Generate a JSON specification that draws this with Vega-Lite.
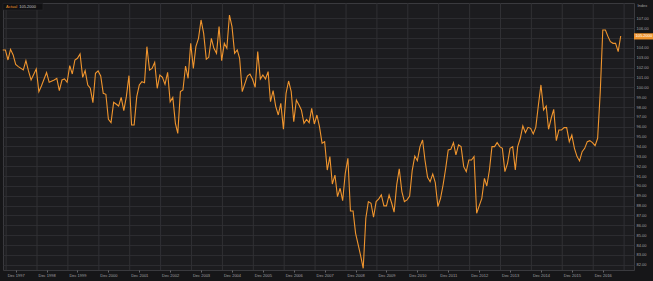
{
  "$schema": "https://vega.github.io/schema/vega-lite/v6.json",
  "autosize": {"type": "none"},
  "padding": {"left": 3, "top": 3, "right": 19, "bottom": 11},
  "width": 631,
  "height": 267,
  "background": "#161618",
  "config": {
    "view": {"stroke": "#3a3a3e", "fill": "#1c1c1f"},
    "font": "Liberation Sans"
  },
  "resolve": {"axis": {"x": "independent", "y": "independent"}},
  "datasets": {
    "series": [
      {"date": "1997-07-01", "v": 103.79}, {"date": "1997-08-01", "v": 103.79}, {"date": "1997-09-01", "v": 102.77}, {"date": "1997-10-01", "v": 103.85}, {"date": "1997-11-01", "v": 103.28}, {"date": "1997-12-01", "v": 102.33},
      {"date": "1998-01-01", "v": 102.10}, {"date": "1998-03-01", "v": 101.76}, {"date": "1998-04-01", "v": 102.71}, {"date": "1998-05-01", "v": 101.66}, {"date": "1998-06-01", "v": 100.74}, {"date": "1998-08-01", "v": 101.86}, {"date": "1998-09-01", "v": 99.56}, {"date": "1998-10-01", "v": 100.13}, {"date": "1998-12-01", "v": 101.49},
      {"date": "1999-01-01", "v": 100.51}, {"date": "1999-03-01", "v": 100.74}, {"date": "1999-04-01", "v": 100.91}, {"date": "1999-05-01", "v": 99.66}, {"date": "1999-06-01", "v": 100.74}, {"date": "1999-07-01", "v": 100.84}, {"date": "1999-08-01", "v": 100.51}, {"date": "1999-09-01", "v": 102.20}, {"date": "1999-10-01", "v": 101.35}, {"date": "1999-11-01", "v": 102.77}, {"date": "1999-12-01", "v": 102.94},
      {"date": "2000-01-01", "v": 103.38}, {"date": "2000-02-01", "v": 101.01}, {"date": "2000-03-01", "v": 101.69}, {"date": "2000-04-01", "v": 100.23}, {"date": "2000-05-01", "v": 99.90}, {"date": "2000-06-01", "v": 98.44}, {"date": "2000-07-01", "v": 101.42}, {"date": "2000-08-01", "v": 101.66}, {"date": "2000-09-01", "v": 101.15}, {"date": "2000-10-01", "v": 99.39}, {"date": "2000-11-01", "v": 99.29}, {"date": "2000-12-01", "v": 96.75},
      {"date": "2001-01-01", "v": 96.42}, {"date": "2001-02-01", "v": 98.48}, {"date": "2001-03-01", "v": 98.31}, {"date": "2001-04-01", "v": 98.10}, {"date": "2001-05-01", "v": 98.98}, {"date": "2001-06-01", "v": 97.63}, {"date": "2001-07-01", "v": 99.05}, {"date": "2001-08-01", "v": 101.18}, {"date": "2001-09-01", "v": 96.18}, {"date": "2001-10-01", "v": 96.18}, {"date": "2001-11-01", "v": 99.05}, {"date": "2001-12-01", "v": 100.23},
      {"date": "2002-01-01", "v": 100.57}, {"date": "2002-02-01", "v": 100.47}, {"date": "2002-03-01", "v": 104.12}, {"date": "2002-04-01", "v": 101.75}, {"date": "2002-05-01", "v": 101.92}, {"date": "2002-06-01", "v": 102.53}, {"date": "2002-07-01", "v": 99.90}, {"date": "2002-08-01", "v": 101.25}, {"date": "2002-09-01", "v": 101.01}, {"date": "2002-10-01", "v": 100.30}, {"date": "2002-11-01", "v": 101.52}, {"date": "2002-12-01", "v": 98.54},
      {"date": "2003-01-01", "v": 98.98}, {"date": "2003-02-01", "v": 96.35}, {"date": "2003-03-01", "v": 95.33}, {"date": "2003-04-01", "v": 99.56}, {"date": "2003-05-01", "v": 99.73}, {"date": "2003-06-01", "v": 102.16}, {"date": "2003-07-01", "v": 100.91}, {"date": "2003-08-01", "v": 104.46}, {"date": "2003-09-01", "v": 101.92}, {"date": "2003-10-01", "v": 104.12}, {"date": "2003-11-01", "v": 104.97}, {"date": "2003-12-01", "v": 106.83},
      {"date": "2004-01-01", "v": 105.47}, {"date": "2004-02-01", "v": 102.84}, {"date": "2004-03-01", "v": 103.04}, {"date": "2004-04-01", "v": 104.97}, {"date": "2004-05-01", "v": 103.95}, {"date": "2004-06-01", "v": 103.45}, {"date": "2004-07-01", "v": 106.15}, {"date": "2004-08-01", "v": 102.70}, {"date": "2004-09-01", "v": 104.46}, {"date": "2004-10-01", "v": 103.95}, {"date": "2004-11-01", "v": 107.33}, {"date": "2004-12-01", "v": 106.15},
      {"date": "2005-01-01", "v": 103.45}, {"date": "2005-02-01", "v": 103.79}, {"date": "2005-03-01", "v": 102.94}, {"date": "2005-04-01", "v": 99.56}, {"date": "2005-06-01", "v": 101.15}, {"date": "2005-07-01", "v": 101.35}, {"date": "2005-08-01", "v": 100.81}, {"date": "2005-09-01", "v": 100.00}, {"date": "2005-10-01", "v": 103.62}, {"date": "2005-11-01", "v": 100.84}, {"date": "2005-12-01", "v": 101.25},
      {"date": "2006-01-01", "v": 100.84}, {"date": "2006-02-01", "v": 101.59}, {"date": "2006-03-01", "v": 98.55}, {"date": "2006-04-01", "v": 99.66}, {"date": "2006-05-01", "v": 98.10}, {"date": "2006-06-01", "v": 97.19}, {"date": "2006-07-01", "v": 98.37}, {"date": "2006-08-01", "v": 95.74}, {"date": "2006-09-01", "v": 99.39}, {"date": "2006-10-01", "v": 100.64}, {"date": "2006-11-01", "v": 99.56}, {"date": "2006-12-01", "v": 96.52},
      {"date": "2007-01-01", "v": 98.71}, {"date": "2007-02-01", "v": 98.20}, {"date": "2007-03-01", "v": 97.70}, {"date": "2007-04-01", "v": 96.35}, {"date": "2007-05-01", "v": 96.75}, {"date": "2007-06-01", "v": 96.42}, {"date": "2007-07-01", "v": 97.87}, {"date": "2007-08-01", "v": 96.28}, {"date": "2007-09-01", "v": 97.19}, {"date": "2007-10-01", "v": 96.01}, {"date": "2007-11-01", "v": 94.32}, {"date": "2007-12-01", "v": 94.49},
      {"date": "2008-01-01", "v": 91.61}, {"date": "2008-02-01", "v": 92.97}, {"date": "2008-03-01", "v": 90.19}, {"date": "2008-04-01", "v": 91.10}, {"date": "2008-05-01", "v": 88.91}, {"date": "2008-06-01", "v": 89.76}, {"date": "2008-07-01", "v": 88.50}, {"date": "2008-08-01", "v": 91.28}, {"date": "2008-09-01", "v": 92.80}, {"date": "2008-10-01", "v": 87.46}, {"date": "2008-11-01", "v": 87.46}, {"date": "2008-12-01", "v": 85.19},
      {"date": "2009-01-01", "v": 84.01}, {"date": "2009-02-01", "v": 82.83}, {"date": "2009-03-01", "v": 81.64}, {"date": "2009-04-01", "v": 86.72}, {"date": "2009-05-01", "v": 88.41}, {"date": "2009-06-01", "v": 88.24}, {"date": "2009-07-01", "v": 86.82}, {"date": "2009-08-01", "v": 88.41}, {"date": "2009-09-01", "v": 88.68}, {"date": "2009-10-01", "v": 89.08}, {"date": "2009-11-01", "v": 87.97}, {"date": "2009-12-01", "v": 87.97},
      {"date": "2010-01-01", "v": 89.08}, {"date": "2010-02-01", "v": 88.24}, {"date": "2010-03-01", "v": 87.33}, {"date": "2010-04-01", "v": 90.10}, {"date": "2010-05-01", "v": 91.72}, {"date": "2010-06-01", "v": 89.42}, {"date": "2010-07-01", "v": 88.41}, {"date": "2010-08-01", "v": 88.58}, {"date": "2010-09-01", "v": 88.98}, {"date": "2010-10-01", "v": 91.55}, {"date": "2010-11-01", "v": 93.03}, {"date": "2010-12-01", "v": 92.56},
      {"date": "2011-01-01", "v": 93.98}, {"date": "2011-02-01", "v": 94.66}, {"date": "2011-03-01", "v": 92.63}, {"date": "2011-04-01", "v": 90.87}, {"date": "2011-05-01", "v": 90.43}, {"date": "2011-06-01", "v": 91.21}, {"date": "2011-07-01", "v": 90.33}, {"date": "2011-08-01", "v": 87.90}, {"date": "2011-09-01", "v": 88.74}, {"date": "2011-10-01", "v": 90.09}, {"date": "2011-11-01", "v": 91.78}, {"date": "2011-12-01", "v": 93.64},
      {"date": "2012-01-01", "v": 93.71}, {"date": "2012-02-01", "v": 94.39}, {"date": "2012-03-01", "v": 93.14}, {"date": "2012-04-01", "v": 94.15}, {"date": "2012-05-01", "v": 93.98}, {"date": "2012-06-01", "v": 91.95}, {"date": "2012-07-01", "v": 91.45}, {"date": "2012-08-01", "v": 92.63}, {"date": "2012-09-01", "v": 92.63}, {"date": "2012-10-01", "v": 92.97}, {"date": "2012-11-01", "v": 87.23}, {"date": "2012-12-01", "v": 87.97},
      {"date": "2013-01-01", "v": 88.74}, {"date": "2013-02-01", "v": 90.77}, {"date": "2013-03-01", "v": 89.99}, {"date": "2013-04-01", "v": 91.61}, {"date": "2013-05-01", "v": 93.98}, {"date": "2013-06-01", "v": 93.98}, {"date": "2013-07-01", "v": 94.39}, {"date": "2013-08-01", "v": 93.98}, {"date": "2013-09-01", "v": 93.81}, {"date": "2013-10-01", "v": 91.45}, {"date": "2013-11-01", "v": 92.29}, {"date": "2013-12-01", "v": 93.81},
      {"date": "2014-01-01", "v": 93.98}, {"date": "2014-02-01", "v": 91.61}, {"date": "2014-03-01", "v": 93.98}, {"date": "2014-04-01", "v": 94.83}, {"date": "2014-05-01", "v": 96.08}, {"date": "2014-06-01", "v": 95.40}, {"date": "2014-07-01", "v": 95.94}, {"date": "2014-08-01", "v": 95.84}, {"date": "2014-09-01", "v": 95.27}, {"date": "2014-10-01", "v": 95.94}, {"date": "2014-11-01", "v": 98.21}, {"date": "2014-12-01", "v": 100.24},
      {"date": "2015-01-01", "v": 97.70}, {"date": "2015-02-01", "v": 98.10}, {"date": "2015-03-01", "v": 95.74}, {"date": "2015-04-01", "v": 96.86}, {"date": "2015-05-01", "v": 97.77}, {"date": "2015-06-01", "v": 94.59}, {"date": "2015-07-01", "v": 95.67}, {"date": "2015-08-01", "v": 95.67}, {"date": "2015-09-01", "v": 95.91}, {"date": "2015-10-01", "v": 95.91}, {"date": "2015-11-01", "v": 94.49}, {"date": "2015-12-01", "v": 95.16},
      {"date": "2016-01-01", "v": 93.81}, {"date": "2016-02-01", "v": 92.97}, {"date": "2016-03-01", "v": 92.53}, {"date": "2016-04-01", "v": 93.47}, {"date": "2016-05-01", "v": 93.81}, {"date": "2016-06-01", "v": 94.49}, {"date": "2016-07-01", "v": 94.59}, {"date": "2016-08-01", "v": 94.39}, {"date": "2016-09-01", "v": 94.08}, {"date": "2016-10-01", "v": 94.83}, {"date": "2016-11-01", "v": 99.50}, {"date": "2016-12-01", "v": 105.81},
      {"date": "2017-01-01", "v": 105.81}, {"date": "2017-02-01", "v": 105.14}, {"date": "2017-03-01", "v": 104.63}, {"date": "2017-04-01", "v": 104.46}, {"date": "2017-05-01", "v": 104.46}, {"date": "2017-06-01", "v": 103.62}, {"date": "2017-07-01", "v": 105.20}
    ],
    "grid": [
      {"g": "1997-08-10"}, {"g": "1998-08-10"}, {"g": "1999-08-10"}, {"g": "2000-08-10"}, {"g": "2001-08-10"}, {"g": "2002-08-10"}, {"g": "2003-08-10"}, {"g": "2004-08-10"}, {"g": "2005-08-10"}, {"g": "2006-08-10"}, {"g": "2007-08-10"}, {"g": "2008-08-10"}, {"g": "2009-08-10"}, {"g": "2010-08-10"}, {"g": "2011-08-10"}, {"g": "2012-08-10"}, {"g": "2013-08-10"}, {"g": "2014-08-10"}, {"g": "2015-08-10"}, {"g": "2016-08-10"}, {"g": "2017-08-10"}
    ]
  },
  "layer": [
    {
      "data": {"name": "grid"},
      "mark": {"type": "rule", "color": "#303034", "strokeWidth": 1},
      "encoding": {"x": {"field": "g", "type": "temporal", "axis": null}}
    },
    {
      "data": {"name": "series"},
      "mark": {"type": "line", "color": "#f0952e", "strokeWidth": 1.1},
      "encoding": {
        "x": {
          "field": "date", "type": "temporal",
          "scale": {"type": "utc", "domain": [{"year": 1997, "month": 7, "date": 4, "utc": true}, {"year": 2017, "month": 12, "date": 5, "utc": true}]},
          "axis": {
            "title": null, "grid": false, "domain": false,
            "values": [
              {"year": 1997, "month": 12, "date": 1, "utc": true}, {"year": 1998, "month": 12, "date": 1, "utc": true}, {"year": 1999, "month": 12, "date": 1, "utc": true}, {"year": 2000, "month": 12, "date": 1, "utc": true}, {"year": 2001, "month": 12, "date": 1, "utc": true}, {"year": 2002, "month": 12, "date": 1, "utc": true}, {"year": 2003, "month": 12, "date": 1, "utc": true}, {"year": 2004, "month": 12, "date": 1, "utc": true}, {"year": 2005, "month": 12, "date": 1, "utc": true}, {"year": 2006, "month": 12, "date": 1, "utc": true}, {"year": 2007, "month": 12, "date": 1, "utc": true}, {"year": 2008, "month": 12, "date": 1, "utc": true}, {"year": 2009, "month": 12, "date": 1, "utc": true}, {"year": 2010, "month": 12, "date": 1, "utc": true}, {"year": 2011, "month": 12, "date": 1, "utc": true}, {"year": 2012, "month": 12, "date": 1, "utc": true}, {"year": 2013, "month": 12, "date": 1, "utc": true}, {"year": 2014, "month": 12, "date": 1, "utc": true}, {"year": 2015, "month": 12, "date": 1, "utc": true}, {"year": 2016, "month": 12, "date": 1, "utc": true}
            ],
            "labelExpr": "utcFormat(datum.value, '%b %Y')",
            "labelFontSize": 4, "labelColor": "#a0a0a4", "labelPadding": 1,
            "tickSize": 2, "tickColor": "#66666a", "labelFlush": false, "labelOverlap": false
          }
        },
        "y": {
          "field": "v", "type": "quantitative",
          "scale": {"domain": [81.47, 108.55], "nice": false, "zero": false},
          "axis": {
            "orient": "right", "title": "Index", "titleAngle": 0, "titleAlign": "left", "titleBaseline": "middle",
            "titleX": 3, "titleY": 2, "titleFontSize": 4, "titleFontWeight": "normal", "titleColor": "#a0a0a4",
            "values": [82, 83, 84, 85, 86, 87, 88, 89, 90, 91, 92, 93, 94, 95, 96, 97, 98, 99, 100, 101, 102, 103, 104, 105, 106, 107],
            "labelExpr": "datum.value == 105 ? '' : format(datum.value, '.2f')",
            "labelFontSize": 4, "labelColor": "#a0a0a4", "labelPadding": 2, "ticks": false, "domain": false,
            "labelOverlap": false,
            "grid": true, "gridColor": "#2c2c30", "gridWidth": 1
          }
        }
      }
    },
    {
      "data": {"values": [{"t": "Actual"}]},
      "mark": {"type": "rect", "color": "#111113", "stroke": "#2a2a2e", "strokeWidth": 0.5},
      "encoding": {
        "x": {"datum": {"year": 1997, "month": 7, "date": 4, "utc": true}, "type": "temporal", "axis": null},
        "x2": {"datum": {"year": 1998, "month": 10, "date": 19, "utc": true}},
        "y": {"datum": 108.52, "type": "quantitative", "axis": null},
        "y2": {"datum": 107.84}
      }
    },
    {
      "data": {"values": [{"t": "Actual"}]},
      "mark": {"type": "text", "color": "#f0952e", "fontSize": 4, "align": "left", "baseline": "middle"},
      "encoding": {
        "x": {"datum": {"year": 1997, "month": 8, "date": 8, "utc": true}, "type": "temporal", "axis": null},
        "y": {"datum": 108.18, "type": "quantitative", "axis": null},
        "text": {"field": "t", "type": "nominal"}
      }
    },
    {
      "data": {"values": [{"v": 105.2}]},
      "mark": {"type": "text", "color": "#c8c8cc", "fontSize": 4, "align": "left", "baseline": "middle"},
      "encoding": {
        "x": {"datum": {"year": 1998, "month": 1, "date": 12, "utc": true}, "type": "temporal", "axis": null},
        "y": {"datum": 108.18, "type": "quantitative", "axis": null},
        "text": {"field": "v", "type": "quantitative", "format": ".4f"}
      }
    },
    {
      "data": {"values": [{"v": 105.2}]},
      "mark": {"type": "rect", "color": "#f0952e"},
      "encoding": {
        "x": {"datum": {"year": 2017, "month": 12, "date": 5, "utc": true}, "type": "temporal", "axis": null},
        "x2": {"datum": {"year": 2018, "month": 8, "date": 12, "utc": true}},
        "y": {"datum": 105.48, "type": "quantitative", "axis": null},
        "y2": {"datum": 104.85}
      }
    },
    {
      "data": {"values": [{"v": 105.2}]},
      "mark": {"type": "text", "color": "#ffffff", "fontSize": 4, "align": "left", "baseline": "middle"},
      "encoding": {
        "x": {"datum": {"year": 2017, "month": 12, "date": 22, "utc": true}, "type": "temporal", "axis": null},
        "y": {"field": "v", "type": "quantitative", "axis": null},
        "text": {"field": "v", "type": "quantitative", "format": ".4f"}
      }
    }
  ]
}
